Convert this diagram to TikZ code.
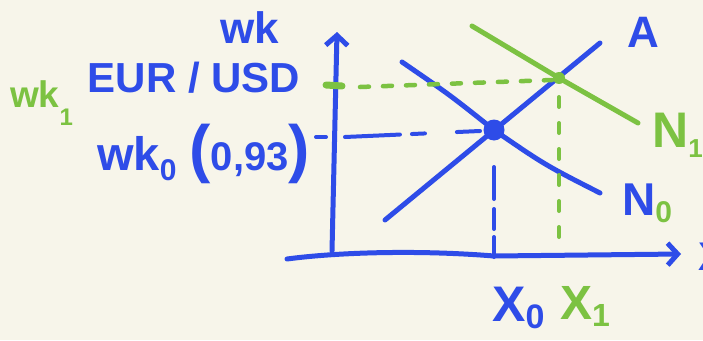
\documentclass[tikz,border=0pt]{standalone}
\usepackage{fontspec}
\setmainfont{Liberation Sans}
\usetikzlibrary{arrows.meta}
\definecolor{pen}{RGB}{46,76,232}
\definecolor{leaf}{RGB}{124,194,66}
\definecolor{paper}{RGB}{247,245,234}
\newcommand\fs[1]{\fontsize{#1}{#1}\selectfont}
\newcommand\subs[3]{\raisebox{#1}{\fs{#2}#3}}
\begin{document}
\begin{tikzpicture}[x=1pt,y=-1pt,line cap=round,line join=round,
  stroke/.style={line width=5pt},
  thinstroke/.style={line width=4pt},
  lbl/.style={inner sep=0pt,anchor=base west,font=\bfseries},
  tipstyle/.style={-{Straight Barb[length=10pt,width=22pt,line width=5pt]}}]
\fill[paper] (0,0) rectangle (703,340);
\useasboundingbox (0,0) rectangle (703,340);
% axes
\coordinate (yb) at (332,251);
\coordinate (yt) at (337,32);
\coordinate (xl) at (287,259);
\coordinate (xr) at (681,254);
\draw[stroke,pen,tipstyle] (yb) -- (yt);
\draw[stroke,pen,tipstyle] (xl) .. controls (340,252) and (420,250) .. (494,256) -- (xr);
% curves
\coordinate (A1) at (385,220);
\coordinate (A2) at (600,43);
\draw[stroke,pen] (A1) -- (A2);
\coordinate (N01) at (402,62);
\coordinate (N02) at (600,193);
\draw[stroke,pen] (N01) .. controls (450,95) .. (494,130) .. controls (545,165) .. (N02);
\coordinate (N11) at (472,26);
\coordinate (N12) at (638,123);
\draw[stroke,leaf] (N11) -- (559,78) -- (N12);
% equilibrium points
\node[circle,fill=pen,inner sep=0pt,minimum size=21pt] (E0) at (494,130) {};
\node[circle,fill=leaf,inner sep=0pt,minimum size=12pt] (E1) at (559,78) {};
% helper coordinates
\coordinate (x0foot) at (494,257);
\coordinate (x0top) at (494,167);
\coordinate (x1foot) at (559,252);
\coordinate (x1top) at (559,97);
\coordinate (w0left) at (345,137);
\coordinate (w0right) at (480,131);
\coordinate (w1left) at (360,87);
\coordinate (w1right) at (552,80);
% dashed guides
\draw[thinstroke,pen,dash pattern=on 32pt off 10pt on 20pt off 8pt on 20pt] (x0top) -- (x0foot);
\draw[thinstroke,pen,dash pattern=on 55pt off 12pt on 13pt off 32pt on 25pt] (w0left) -- (w0right);
\draw[thinstroke,leaf,dash pattern=on 10pt off 16pt] (x1top) -- (x1foot);
\draw[line width=4.5pt,leaf,dash pattern=on 9pt off 14pt] (w1left) -- (w1right);
% ticks
\coordinate (t0a) at (316,137);
\coordinate (t0b) at (326,137);
\draw[thinstroke,pen] (t0a) -- (t0b);
\coordinate (t1a) at (326,85);
\coordinate (t1b) at (342,86);
\draw[line width=7pt,leaf] (t1a) -- (t1b);
% labels
\node[lbl,pen,anchor=base] (wk) at (250,43) {\fs{44pt}wk};
\node[lbl,pen,anchor=base] (cur) at (194,92) {\fs{42pt}EUR / USD};
\node[lbl,leaf] (wk1) at (10,107) {\fs{37pt}wk\subs{-18pt}{24pt}{1}};
\node[lbl,pen] (wk0) at (97,170) {\fs{47pt}wk\subs{-10pt}{30pt}{0} {\fs{64pt}(}{\fs{40pt}0,93}{\fs{64pt})}};
\node[lbl,pen] (lA) at (627,47) {\fs{44pt}A};
\node[lbl,leaf] (lN1) at (652,147) {\fs{50pt}N\subs{-10pt}{26pt}{1}};
\node[lbl,pen] (lN0) at (622,215) {\fs{46pt}N\subs{-7pt}{30pt}{\color{leaf}0}};
\node[lbl,pen] (lX0) at (492,321) {\fs{50pt}X\subs{-7pt}{34pt}{0}};
\node[lbl,leaf] (lX1) at (560,319) {\fs{48pt}X\subs{-7pt}{32pt}{1}};
\node[lbl,pen] (lx) at (698,270) {\fs{40pt}X};
\end{tikzpicture}
\end{document}
